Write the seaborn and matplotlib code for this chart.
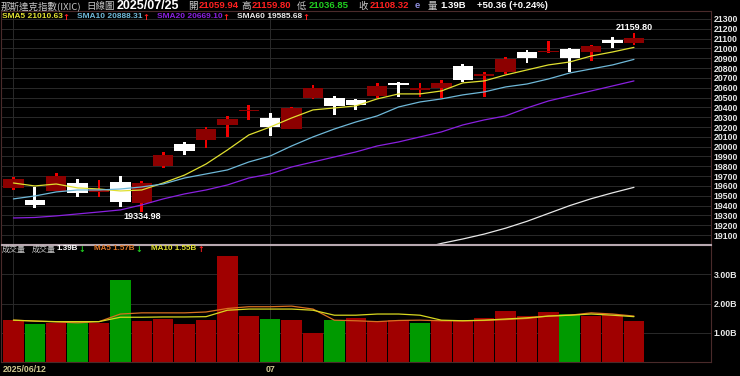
import matplotlib
matplotlib.use("Agg")
import matplotlib.pyplot as plt
import seaborn as sns

# ---- data (30 daily bars, 2025/06/12 .. 2025/07/25) ----
idx = list(range(30))
opens = [19580, 19457, 19549, 19630, 19535, 19641, 19427, 19804, 20030, 20068,
         20221, 20363, 20292, 20180, 20496, 20496, 20476, 20516, 20649, 20577,
         20598, 20822, 20720, 20760, 20964, 20960, 20995, 20964, 21086, 21059.94]
highs = [19690, 19590, 19732, 19671, 19661, 19702, 19651, 19946, 20048, 20201,
         20313, 20425, 20343, 20404, 20628, 20516, 20486, 20649, 20659, 20649,
         20679, 20842, 20760, 20913, 20984, 21075, 21005, 21030, 21117, 21159.80]
lows = [19560, 19375, 19545, 19488, 19488, 19386, 19334.98, 19783, 19916, 19987,
        20099, 20272, 20109, 20175, 20486, 20323, 20374, 20496, 20506, 20506,
        20496, 20659, 20506, 20740, 20852, 20955, 20760, 20873, 21005, 21036.85]
closes = [19670, 19402, 19702, 19529, 19565, 19437, 19630, 19916, 19960, 20180,
          20282, 20374, 20201, 20394, 20598, 20414, 20425, 20618, 20628, 20598,
          20649, 20679, 20740, 20893, 20903, 20975, 20903, 21025, 21056, 21108.32]

sma5 = [19630, 19600, 19620, 19580, 19569, 19549, 19559, 19630, 19711, 19823,
        19966, 20119, 20200, 20292, 20374, 20394, 20415, 20486, 20537, 20537,
        20567, 20649, 20669, 20730, 20781, 20832, 20862, 20923, 20964, 21010.63]
sma10 = [19468, 19498, 19539, 19559, 19559, 19569, 19590, 19620, 19681, 19722,
         19763, 19844, 19905, 20007, 20099, 20180, 20251, 20313, 20404, 20455,
         20486, 20527, 20557, 20608, 20638, 20689, 20750, 20791, 20832, 20888.31]
sma20 = [19274, 19279, 19295, 19315, 19335, 19356, 19407, 19468, 19519, 19559,
         19610, 19681, 19722, 19793, 19844, 19895, 19946, 20007, 20048, 20099,
         20150, 20221, 20272, 20313, 20394, 20465, 20516, 20567, 20618, 20669.10]
sma60_idx = [19, 20, 21, 22, 23, 24, 25, 26, 27, 28, 29]
sma60 = [18960, 19015, 19060, 19110, 19170, 19240, 19320, 19400, 19470, 19530, 19585.68]

volume = [1.43, 1.30, 1.35, 1.36, 1.34, 2.82, 1.41, 1.46, 1.30, 1.43,
          3.64, 1.58, 1.47, 1.43, 0.98, 1.43, 1.50, 1.40, 1.43, 1.32,
          1.40, 1.40, 1.51, 1.75, 1.58, 1.72, 1.64, 1.58, 1.60, 1.39]
vol_down = [1, 3, 5, 12, 15, 19, 26]
vol_ma5 = [1.43, 1.40, 1.37, 1.34, 1.38, 1.64, 1.68, 1.68, 1.68, 1.71,
           1.83, 1.89, 1.89, 1.91, 1.81, 1.43, 1.41, 1.38, 1.42, 1.43,
           1.41, 1.41, 1.42, 1.45, 1.49, 1.57, 1.60, 1.68, 1.64, 1.57]
vol_ma10 = [1.43, 1.40, 1.38, 1.38, 1.38, 1.53, 1.53, 1.54, 1.54, 1.55,
            1.77, 1.81, 1.81, 1.81, 1.77, 1.60, 1.60, 1.64, 1.64, 1.60,
            1.43, 1.41, 1.43, 1.47, 1.51, 1.57, 1.60, 1.64, 1.60, 1.55]

price_ticks = list(range(19100, 21301, 100))
vol_ticks = [1, 2, 3]
vol_tick_labels = ['1.00B', '2.00B', '3.00B']

sns.set_theme(style="dark")
plt.rcParams['font.family'] = ['Liberation Sans', 'Noto Sans CJK TC', 'DejaVu Sans']
CJK = ['Noto Sans CJK TC', 'DejaVu Sans']
ARROW = ['DejaVu Sans']

W, H = 740, 376
fig = plt.figure(figsize=(W / 100, H / 100), dpi=100, facecolor='black')
ax1 = fig.add_axes([1 / W, 1 - 244 / H, 710 / W, 233 / H])
ax2 = fig.add_axes([1 / W, 1 - 362 / H, 710 / W, 117 / H])

UP_BODY, UP_WICK, DOWN = '#8c0000', '#f00000', '#ffffff'
GRID = '#2a2a2a'

for ax in (ax1, ax2):
    ax.set_facecolor('black')
    ax.set_xlim(-0.58, 32.6)
    ax.set_xticks([0, 12])
    ax.set_xticklabels([])
    ax.grid(True, color=GRID, lw=0.7)
    ax.yaxis.tick_right()
    ax.tick_params(length=0, pad=2, labelsize=6.3, labelcolor='#e8e8e8')
    for s in ax.spines.values():
        s.set_color('#4a2a2a')
        s.set_linewidth(0.8)
    ax.set_axisbelow(True)

# candles
for i in idx:
    o, h, l, c = opens[i], highs[i], lows[i], closes[i]
    up = c >= o
    ax1.bar(i, h - l, bottom=l, width=0.13, color=UP_WICK if up else DOWN, lw=0)
    ax1.bar(i, max(abs(c - o), 14), bottom=min(o, c), width=0.95,
            color=UP_BODY if up else DOWN, lw=0)

sns.lineplot(x=idx, y=sma5, color='#e0e030', lw=0.9, ax=ax1)
sns.lineplot(x=idx, y=sma10, color='#6fb8d8', lw=0.9, ax=ax1)
sns.lineplot(x=idx, y=sma20, color='#8a20e0', lw=0.9, ax=ax1)
sns.lineplot(x=sma60_idx, y=sma60, color='#e8e8e8', lw=0.9, ax=ax1)

ax1.set_ylim(19009, 21381)
ax1.set_yticks(price_ticks)
ax1.set_yticklabels([str(t) for t in price_ticks], fontweight='bold')
ax1.set_ylabel('')
ax1.spines['bottom'].set_color('#b8a8b0')
ax1.text(29, 21208, f'{highs[29]:.2f}', color='white', fontsize=6.5,
         fontweight='bold', ha='center', va='center')
ax1.text(6, 19284, f'{lows[6]:.2f}', color='white', fontsize=6.5,
         fontweight='bold', ha='center', va='center')

# volume
vol_colors = ['#009a00' if i in vol_down else '#a00000' for i in idx]
ax2.bar(idx, volume, width=0.96, color=vol_colors, lw=0)
sns.lineplot(x=idx, y=vol_ma5, color='#d87020', lw=0.9, ax=ax2)
sns.lineplot(x=idx, y=vol_ma10, color='#d8d820', lw=0.9, ax=ax2)
ax2.set_ylim(0, 4.0)
ax2.set_yticks(vol_ticks)
ax2.set_yticklabels(vol_tick_labels, fontweight='bold')
ax2.set_ylabel('')
ax2.spines['top'].set_color('#b8a8b0')


def put(x, y, s, color, size=7, bold=True, family=None):
    kw = dict(color=color, fontsize=size, va='center', ha='left')
    if bold:
        kw['fontweight'] = 'bold'
    if family:
        kw['family'] = family
    fig.text(x / W, 1 - y / H, s, **kw)


GRAY = '#c8c8c8'
RED, GREEN = '#ff2020', '#20d020'
# header line 1
put(1, 6, '那斯達克指數(IXIC)', GRAY, 6.8, False, CJK)
put(86, 6, '日線圖', GRAY, 6.8, False, CJK)
put(117, 6, '2025/07/25', 'white', 9)
put(188, 6, '開', GRAY, 6.8, False, CJK)
put(199, 6, f'{opens[29]:.2f}', RED, 6.8)
put(241, 6, '高', GRAY, 6.8, False, CJK)
put(252, 6, f'{highs[29]:.2f}', RED, 6.8)
put(297, 6, '低', GRAY, 6.8, False, CJK)
put(309, 6, f'{lows[29]:.2f}', GREEN, 6.8)
put(358, 6, '收', GRAY, 6.8, False, CJK)
put(370, 6, f'{closes[29]:.2f}', RED, 6.8)
put(415, 6, 'e', '#9090e0', 6.8)
put(428, 6, '量', GRAY, 6.8, False, CJK)
put(440, 6, '1.39B', 'white', 6.8)
put(477, 6, '+50.36 (+0.24%)', 'white', 6.8)
# header line 2
put(2, 17, f'SMA5 {sma5[-1]:.2f}', '#e0e030', 6)
put(62, 17, '↑', RED, 6, True, ARROW)
put(77, 17, f'SMA10 {sma10[-1]:.2f}', '#6fb8d8', 6)
put(142, 17, '↑', RED, 6, True, ARROW)
put(157, 17, f'SMA20 {sma20[-1]:.2f}', '#8a20e0', 6)
put(222, 17, '↑', RED, 6, True, ARROW)
put(237, 17, f'SMA60 {sma60[-1]:.2f}', '#e8e8e8', 6)
put(302, 17, '↑', RED, 6, True, ARROW)
# volume legend
put(2, 249, '成交量', GRAY, 5.8, False, CJK)
put(32, 249, '成交量', GRAY, 5.8, False, CJK)
put(56, 249, f'{volume[-1]:.2f}B', 'white', 5.8)
put(78, 249, '↓', GREEN, 5.8, True, ARROW)
put(94, 249, f'MA5 {vol_ma5[-1]:.2f}B', '#e07828', 5.8)
put(135, 249, '↓', GREEN, 5.8, True, ARROW)
put(151, 249, f'MA10 {vol_ma10[-1]:.2f}B', '#e0e030', 5.8)
put(197, 249, '↑', RED, 5.8, True, ARROW)
# x labels
put(3, 369, '2025/06/12', '#d0c890', 6.3)
put(266, 369, '07', '#d0c890', 6.3)

fig.savefig('out.png', dpi=100, facecolor='black')
